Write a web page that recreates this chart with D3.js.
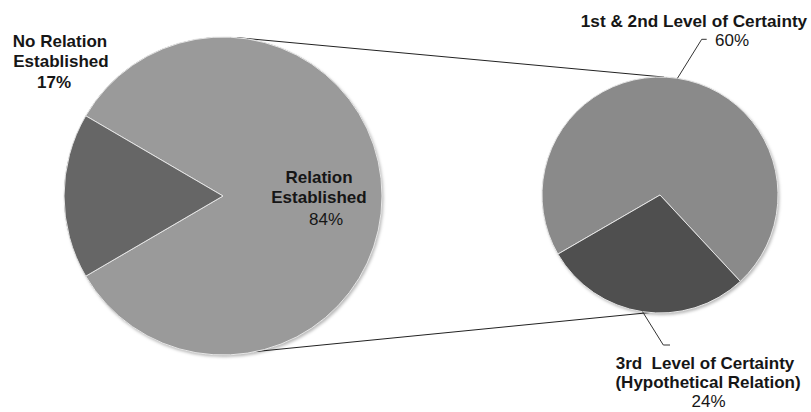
<!DOCTYPE html>
<html><head><meta charset="utf-8">
<script src="https://cdn.jsdelivr.net/npm/d3@7"></script>
<style>body{margin:0;background:#fff}svg{display:block}</style>
</head><body><svg id="c" width="811" height="412"></svg>
<script>
// ---- data ----
const mainCategories = ["Relation Established", "No Relation Established"];
const mainValues = [84, 17];
const subCategories = ["1st & 2nd Level of Certainty", "3rd  Level of Certainty (Hypothetical Relation)"];
const subValues = [60, 24];

// ---- layout ----
const W = 811, H = 412;
const svg = d3.select("#c").attr("width", W).attr("height", H);
svg.append("rect").attr("width", W).attr("height", H).attr("fill", "#fff");
const defs = svg.append("defs");
const f = defs.append("filter").attr("id", "sh").attr("x", "-10%").attr("y", "-10%").attr("width", "120%").attr("height", "120%");
f.append("feDropShadow").attr("dx", 1.5).attr("dy", 2).attr("stdDeviation", 1.6)
  .attr("flood-color", "#000").attr("flood-opacity", 0.28);

const main = {cx: 223, cy: 196, r: 159};
const sub = {cx: 660, cy: 195, r: 118};
const TAU = Math.PI * 2;
const deg = d => d * Math.PI / 180;

// main pie: "No Relation" slice centred to the west
const mainTotal = d3.sum(mainValues);
const mainStart = deg(270) - TAU * (mainValues[0] + mainValues[1] / 2) / mainTotal;
const mainPie = d3.pie().sort(null).value(d => d).startAngle(mainStart).endAngle(mainStart + TAU)(mainValues);
// sub pie: 3rd level slice centred slightly past south
const subTotal = d3.sum(subValues);
const subStart = deg(188.5) - TAU * (subValues[0] + subValues[1] / 2) / subTotal;
const subPie = d3.pie().sort(null).value(d => d).startAngle(subStart).endAngle(subStart + TAU)(subValues);

const mainColor = d3.scaleOrdinal().domain(mainCategories).range(["#9a9a9a", "#666666"]);
const subColor = d3.scaleOrdinal().domain(subCategories).range(["#8a8a8a", "#4f4f4f"]);

const pt = (p, a, r) => [p.cx + Math.sin(a) * (r ?? p.r), p.cy - Math.cos(a) * (r ?? p.r)];

// connector lines
const conn = svg.append("g").attr("stroke", "#222").attr("stroke-width", 1).attr("fill", "none");
conn.append("line").attr("x1", pt(main, deg(5))[0]).attr("y1", pt(main, deg(5))[1])
  .attr("x2", pt(sub, deg(2))[0]).attr("y2", pt(sub, deg(2))[1]);
conn.append("line").attr("x1", pt(main, deg(168))[0]).attr("y1", pt(main, deg(168))[1])
  .attr("x2", pt(sub, deg(185))[0]).attr("y2", pt(sub, deg(185))[1]);

function drawPie(p, arcs, cats, color) {
  const g = svg.append("g").attr("transform", `translate(${p.cx},${p.cy})`);
  g.append("circle").attr("r", p.r).attr("fill", "#999").attr("filter", "url(#sh)");
  const arc = d3.arc().innerRadius(0).outerRadius(p.r);
  g.selectAll("path").data(arcs).join("path")
    .attr("d", arc).attr("fill", (d, i) => color(cats[i]))
    .attr("stroke", "#e6e6e6").attr("stroke-width", 1).attr("stroke-linejoin", "round");
}
drawPie(main, mainPie, mainCategories, mainColor);
drawPie(sub, subPie, subCategories, subColor);

// leader lines for sub pie
const lead = svg.append("g").attr("stroke", "#333").attr("stroke-width", 1).attr("fill", "none");
const midA = d => (d.startAngle + d.endAngle) / 2;
const s0 = pt(sub, midA(subPie[0]));
lead.append("polyline").attr("points", [s0, [701.7, 39.3], [706.7, 39.3]].map(q => q.join(",")).join(" "));
const s1 = pt(sub, midA(subPie[1]));
lead.append("polyline").attr("points", [s1, [663.3, 345], [670, 345]].map(q => q.join(",")).join(" "));

// labels
const font = "'Liberation Sans', Arial, sans-serif";
function label(x, y, txt, bold, size) {
  svg.append("text").attr("x", x).attr("y", y).attr("text-anchor", "middle")
    .attr("font-family", font).attr("font-size", size || 17).attr("font-weight", bold ? "bold" : "normal")
    .attr("fill", "#161616").style("white-space", "pre").text(txt);
}
const pct = v => v + "%";
label(60, 46.5, "No Relation", true);
label(61, 66.5, "Established", true);
label(54, 88, pct(mainValues[1]), true);

label(319, 183, "Relation", true);
label(319, 202.5, "Established", true);
label(326, 225, pct(mainValues[0]), false);

label(694, 26.5, subCategories[0], true, 17.2);
label(732, 45.5, pct(subValues[0]), false);

label(705, 368.5, "3rd  Level of Certainty", true);
label(708, 388, "(Hypothetical Relation)", true);
label(708.5, 407, pct(subValues[1]), false);
</script>
</body></html>
